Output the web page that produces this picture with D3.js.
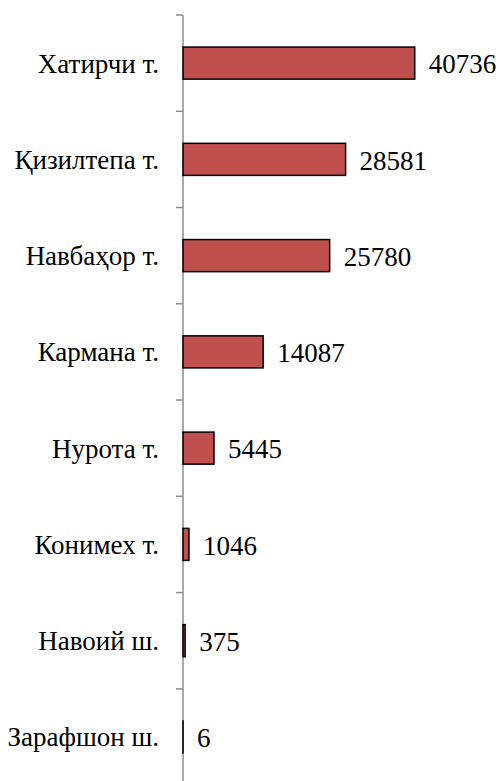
<!DOCTYPE html>
<html>
<head>
<meta charset="utf-8">
<script src="https://cdn.jsdelivr.net/npm/d3@7"></script>
<style>
  body { margin: 0; background: #fff; }
  svg { display: block; }
</style>
</head>
<body>
<div id="chart"></div>
<script>
// districts, top to bottom
var districts = ['Хатирчи т.', 'Қизилтепа т.', 'Навбаҳор т.', 'Кармана т.',
                 'Нурота т.', 'Конимех т.', 'Навоий ш.', 'Зарафшон ш.'];
var values = [40736, 28581, 25780, 14087, 5445, 1046, 375, 6];

var width = 502, height = 781;
var axisX = 183;
var font = '"Liberation Serif"';

var svg = d3.select('#chart').append('svg')
    .attr('width', width)
    .attr('height', height);

var x = d3.scaleLinear()
    .domain([0, 45000])
    .range([axisX, axisX + 256]);

var y = d3.scaleBand()
    .domain(districts)
    .range([15, 785])
    .paddingInner(0.667)
    .paddingOuter(0.333);

// axis line + boundary ticks
var step = y.step();
var bounds = d3.range(districts.length + 1).map(function(i){ return 15 + i * step; });

svg.append('line')
    .attr('x1', axisX).attr('x2', axisX)
    .attr('y1', 15).attr('y2', 785)
    .style('stroke', '#8c8c8c')
    .style('stroke-width', '1.5px');

svg.selectAll('.tick')
    .data(bounds)
    .enter().append('line')
    .attr('class', 'tick')
    .attr('x1', axisX - 7).attr('x2', axisX)
    .attr('y1', function(d){ return d; })
    .attr('y2', function(d){ return d; })
    .style('stroke', '#8c8c8c')
    .style('stroke-width', '1.5px');

svg.selectAll('.bar')
    .data(values)
    .enter().append('rect')
    .attr('class', 'bar')
    .attr('x', x(0))
    .attr('y', function(d, i){ return y(districts[i]); })
    .attr('width', function(d){ return x(d) - x(0); })
    .attr('height', y.bandwidth())
    .style('fill', '#c0504d')
    .style('stroke', '#000')
    .style('stroke-width', '1.5px');

svg.selectAll('.val')
    .data(values)
    .enter().append('text')
    .attr('class', 'val')
    .attr('x', function(d){ return x(d) + 14; })
    .attr('y', function(d, i){ return y(districts[i]) + y.bandwidth() / 2; })
    .attr('dy', '0.38em')
    .style('font-family', font)
    .style('font-size', '27px')
    .text(function(d){ return d; });

svg.selectAll('.cat')
    .data(districts)
    .enter().append('text')
    .attr('class', 'cat')
    .attr('x', axisX - 24)
    .attr('y', function(d){ return y(d) + y.bandwidth() / 2; })
    .attr('dy', '0.35em')
    .attr('text-anchor', 'end')
    .style('font-family', font)
    .style('font-size', '27px')
    .text(function(d){ return d; });
</script>
</body>
</html>
